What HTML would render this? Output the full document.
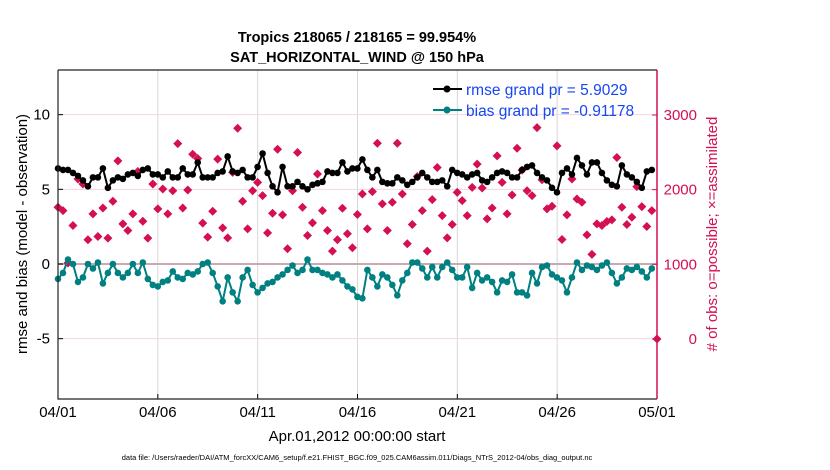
<!DOCTYPE html>
<html><head><meta charset="utf-8"><style>
html,body{margin:0;padding:0;background:#fff;}
svg{display:block;font-family:"Liberation Sans",Arial,sans-serif;}
</style></head><body>
<svg id="chart" width="830" height="470" viewBox="0 0 830 470">
<g id="grid"></g>
<g id="series"></g>
<g id="axes"></g>
<text x="357" y="42" text-anchor="middle" font-size="14.5" font-weight="bold">Tropics 218065 / 218165 = 99.954%</text>
<text x="357" y="62" text-anchor="middle" font-size="14.5" font-weight="bold">SAT_HORIZONTAL_WIND @ 150 hPa</text>
<text transform="translate(27,234) rotate(-90)" text-anchor="middle" font-size="15">rmse and bias (model - observation)</text>
<text transform="translate(717,234) rotate(-90)" text-anchor="middle" font-size="15" fill="#d4104f"># of obs: o=possible; ×=assimilated</text>
<text x="357" y="441" text-anchor="middle" font-size="15">Apr.01,2012 00:00:00 start</text>
<text x="357" y="460" text-anchor="middle" font-size="7.5">data file: /Users/raeder/DAI/ATM_forcXX/CAM6_setup/f.e21.FHIST_BGC.f09_025.CAM6assim.011/Diags_NTrS_2012-04/obs_diag_output.nc</text>
<g>
<line x1="433" y1="89" x2="462" y2="89" stroke="#000" stroke-width="2"/>
<circle cx="447" cy="89" r="3.5" fill="#000"/>
<text x="466" y="95" font-size="15.5" fill="#1646f5">rmse grand pr = 5.9029</text>
<line x1="433" y1="110" x2="462" y2="110" stroke="#008080" stroke-width="2"/>
<circle cx="447" cy="110" r="3.5" fill="#008080"/>
<text x="466" y="116" font-size="15.5" fill="#1646f5">bias grand pr = -0.91178</text>
</g>
</svg>
<script>
const rmse = [6.4,6.3,6.3,6.1,5.9,5.6,5.2,5.8,5.8,6.4,5.1,5.6,5.8,5.7,6.0,6.1,5.9,6.3,6.4,6.0,6.0,5.8,6.2,5.8,5.8,6.4,6.0,6.0,6.8,5.8,
5.8,5.8,6.1,6.2,7.2,6.2,6.1,6.3,5.8,5.8,6.5,7.4,6.1,5.2,4.8,6.5,5.2,5.2,5.5,5.2,5.0,5.3,5.4,5.5,6.2,6.1,6.1,6.8,6.2,6.4,
6.4,7.0,6.3,5.8,6.3,5.5,5.4,5.4,5.8,5.6,5.3,5.5,5.8,6.1,5.8,5.5,5.5,5.6,5.2,6.3,6.1,6.0,5.8,6.0,6.1,5.6,5.5,5.8,6.1,6.2,
6.1,5.8,5.8,6.3,6.5,6.6,6.1,5.8,5.6,5.1,4.8,6.1,6.4,6.0,7.1,6.6,6.0,6.8,6.8,6.1,5.6,5.3,5.2,6.6,6.0,5.8,5.5,5.1,6.2,6.3];
const bias = [-1.0,-0.6,0.3,0.0,-1.2,-0.9,0.0,-0.3,0.1,-1.3,-0.6,0.0,-0.6,-0.9,-0.6,0.0,-0.6,0.1,-1.0,-1.4,-1.5,-1.2,-1.1,-0.5,-0.9,-1.0,-0.6,-0.7,-0.5,0.0,
0.1,-0.6,-1.5,-2.5,-0.9,-1.9,-2.5,-0.9,-0.4,-1.4,-1.9,-1.6,-1.3,-1.2,-0.9,-0.7,-0.4,-0.1,-0.6,-0.4,0.3,-0.4,-0.4,-0.6,-0.7,-0.9,-0.7,-1.1,-1.5,-1.7,
-2.2,-2.3,-0.4,-0.9,-1.5,-0.7,-0.9,-1.4,-2.1,-1.1,-0.6,0.1,0.1,-0.3,-0.9,-0.2,-0.9,-0.2,0.1,-0.4,-0.9,-0.9,-0.2,-1.6,-0.6,-1.1,-0.9,-1.2,-1.9,-1.1,
-1.2,-0.7,-1.9,-1.9,-2.1,-0.6,-1.3,-0.2,-0.1,-0.7,-0.9,-1.1,-1.9,-0.9,0.1,-0.4,-0.1,-0.2,-0.4,-0.1,0.1,-0.6,-1.3,-0.9,-0.3,-0.4,-0.2,-0.5,-0.9,-0.3];
const nobs = [1764,1720,1017,1520,2142,2075,1329,1675,1373,1755,1351,1844,2386,1542,1453,1675,2244,1577,1351,2075,1742,2009,1675,1986,2617,1755,1996,2475,2417,1551,
1364,1711,2409,1489,1355,2231,2822,1844,1475,1986,2097,1920,1422,1684,2542,1662,1209,1986,2497,1764,1386,1555,2209,1720,1453,1177,1329,1751,1409,1222,
1667,1942,1475,1973,2622,1809,1453,1831,2622,1942,1275,1533,2177,1720,1177,1866,2297,1653,1355,1533,1964,1853,1653,2031,2342,2022,1609,1755,2453,2097,
1675,1929,2555,2262,1986,1920,2830,2133,1742,1777,2586,1333,1662,2142,1875,1831,1395,1133,1542,1520,1573,1595,2430,1764,1533,1631,2040,1773,1506,1720,0];
const xTickLabels = ["04/01","04/06","04/11","04/16","04/21","04/26","05/01"];
const xTickDays = [0,5,10,15,20,25,30];
const leftTicks = [-5,0,5,10];
const rightTicks = [0,1000,2000,3000];

const NS="http://www.w3.org/2000/svg";
const L=58,R=657,T=70,B=399;
const xDay=d=>L+d*(R-L)/30;
const xIdx=i=>L+i*4.99;
const yL=v=>264-v*74.67/5;
const yR=c=>339-c*74.67/1000;
function mk(tag,attrs,parent){const e=document.createElementNS(NS,tag);for(const k in attrs)e.setAttribute(k,attrs[k]);parent.appendChild(e);return e;}
const grid=document.getElementById('grid'),ser=document.getElementById('series'),ax=document.getElementById('axes');

xTickDays.forEach((d,i)=>{
  if(d>0&&d<30){const g=mk('line',{x1:xDay(d),x2:xDay(d),y1:T,y2:B,stroke:'#d8d8d8','stroke-width':1},grid);
  
  }
  const t=mk('line',{x1:xDay(d),x2:xDay(d),y1:B,y2:B-5,stroke:'#000'},ax);
  
  
  const tl=mk('text',{x:xDay(d),y:B+18,'text-anchor':'middle','font-size':15},ax);
  tl.textContent=xTickLabels[i];
  
  
});
leftTicks.forEach(v=>{
  if(v!==0){const g=mk('line',{x1:L,x2:R,y1:yL(v),y2:yL(v),stroke:'#f4d4de','stroke-width':1},grid);
  
  }
  const t=mk('line',{x1:L,x2:L+5,y1:yL(v),y2:yL(v),stroke:'#000'},ax);
  
  
  const tl=mk('text',{x:L-8,y:yL(v)+5,'text-anchor':'end','font-size':15},ax);
  tl.textContent=v;
  
  
});
const zl=mk('line',{x1:L,x2:R,y1:yL(0),y2:yL(0),stroke:'#c9a9b2','stroke-width':2},grid);


rightTicks.forEach(c=>{
  const t=mk('line',{x1:R,x2:R-5,y1:yR(c),y2:yR(c),stroke:'#d4104f'},ax);
  
  
  const tl=mk('text',{x:697,y:yR(c)+5,'text-anchor':'end','font-size':15,fill:'#d4104f'},ax);
  tl.textContent=c;
  
  
});
nobs.forEach((c,i)=>{
  const x=(i===nobs.length-1)?R:xIdx(i),y=yR(c),s=4.5;
  const p=mk('polygon',{points:`${x},${y-s} ${x+s},${y} ${x},${y+s} ${x-s},${y}`,fill:'#d4104f'},ser);
  
  
});
function line(arr,color,name){
  const pl=mk('polyline',{points:arr.map((v,i)=>xIdx(i)+','+yL(v)).join(' '),fill:'none',stroke:color,'stroke-width':2},ser);
  
  
  arr.forEach((v,i)=>{const c=mk('circle',{cx:xIdx(i),cy:yL(v),r:3.3,fill:color},ser);
    
    });
}
line(bias,'#008080','bias');
line(rmse,'#000000','rmse');
const a1=mk('path',{d:`M${L},${T}H${R}M${L},${T}V${B}H${R}`,fill:'none',stroke:'#222','stroke-width':1.2},ax);


const a2=mk('line',{x1:R,x2:R,y1:T,y2:B,stroke:'#d4104f','stroke-width':1.5},ax);


</script>
</body></html>
